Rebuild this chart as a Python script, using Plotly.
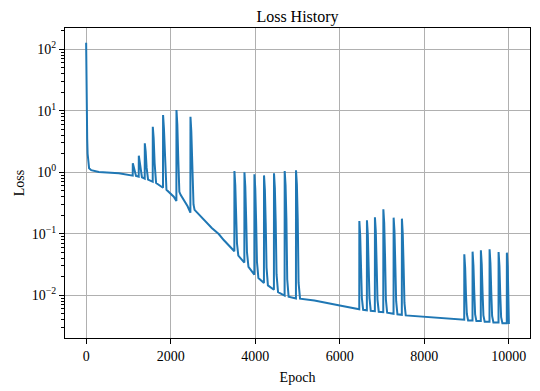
"""Loss history chart (log scale)."""

import plotly.graph_objects as go

# Epoch / loss pairs
epochs = [
    0, 4, 8, 12, 18, 25, 35, 50, 70, 120, 300, 773, 1080,
    # first group of spikes
    1102, 1104, 1125, 1150, 1180,
    1244, 1246, 1266, 1290, 1320,
    1386, 1388, 1408, 1430, 1465,
    1575, 1577, 1597, 1620, 1655,
    1818, 1820, 1840, 1862, 1900,
    2073, 2135, 2137, 2157, 2180, 2205, 2235,
    2400, 2466, 2468, 2488, 2510, 2540, 2565,
    2742, 2972, 3137, 3255,
    # second group
    3506, 3508, 3528, 3548, 3568, 3600,
    3743, 3745, 3765, 3785, 3805, 3840,
    3979, 3981, 4001, 4021, 4041, 4075,
    4206, 4208, 4228, 4248, 4268, 4300,
    4442, 4444, 4464, 4484, 4504, 4540,
    4695, 4697, 4717, 4737, 4757, 4790,
    4963, 4965, 4985, 5005, 5025, 5060,
    5400, 6000,
    # third group
    6461, 6463, 6483, 6503, 6523, 6553,
    6641, 6643, 6663, 6683, 6703, 6733,
    6830, 6832, 6852, 6872, 6892, 6922,
    7029, 7031, 7051, 7071, 7091, 7121,
    7272, 7274, 7294, 7314, 7334, 7364,
    7468, 7470, 7490, 7510, 7530, 7560,
    8500,
    # fourth group
    8944, 8946, 8966, 8986, 9006, 9036,
    9140, 9142, 9162, 9182, 9202, 9232,
    9336, 9338, 9358, 9378, 9398, 9428,
    9542, 9544, 9564, 9584, 9604, 9634,
    9755, 9757, 9777, 9797, 9817, 9847,
    9951, 9953, 9973, 9990, 10000,
]
loss = [
    128, 45, 20, 10, 6, 3.5, 2.0, 1.4, 1.16, 1.08, 1.01, 0.96, 0.88,
    0.88, 1.40, 1.20, 0.98, 0.87,
    0.845, 1.86, 1.5, 1.05, 0.83,
    0.79, 2.96, 2.2, 1.2, 0.76,
    0.70, 5.5, 3.6, 1.4, 0.67,
    0.56, 8.5, 5.2, 1.6, 0.52,
    0.40, 0.34, 10.3, 6.0, 1.6, 0.48, 0.43,
    0.28, 0.22, 8.0, 4.6, 1.2, 0.30, 0.245,
    0.179, 0.124, 0.099, 0.079,
    0.052, 1.05, 0.62, 0.20, 0.07, 0.044,
    0.034, 1.00, 0.58, 0.18, 0.05, 0.029,
    0.0216, 0.93, 0.54, 0.16, 0.035, 0.019,
    0.0158, 0.89, 0.52, 0.15, 0.028, 0.0145,
    0.0123, 0.96, 0.56, 0.16, 0.022, 0.0112,
    0.0099, 1.05, 0.62, 0.18, 0.018, 0.0095,
    0.0089, 1.08, 0.64, 0.18, 0.016, 0.0088,
    0.0082, 0.0068,
    0.0059, 0.161, 0.095, 0.028, 0.009, 0.0058,
    0.0057, 0.166, 0.098, 0.029, 0.009, 0.0056,
    0.0055, 0.185, 0.11, 0.032, 0.0085, 0.0054,
    0.0053, 0.25, 0.15, 0.042, 0.0085, 0.0052,
    0.0050, 0.183, 0.11, 0.031, 0.008, 0.0049,
    0.0048, 0.176, 0.10, 0.030, 0.0075, 0.0047,
    0.0042,
    0.0040, 0.0464, 0.028, 0.010, 0.0050, 0.0039,
    0.0039, 0.0512, 0.030, 0.011, 0.0049, 0.0038,
    0.0038, 0.054, 0.032, 0.011, 0.0047, 0.0037,
    0.0037, 0.056, 0.033, 0.011, 0.0046, 0.0036,
    0.0036, 0.0506, 0.030, 0.010, 0.0044, 0.0035,
    0.0035, 0.0493, 0.029, 0.008, 0.0034,
]

y_tick_values = [0.01, 0.1, 1, 10, 100]
y_tick_text = ["10<sup>−2</sup>", "10<sup>−1</sup>", "10<sup>0</sup>",
               "10<sup>1</sup>", "10<sup>2</sup>"]
x_tick_values = [0, 2000, 4000, 6000, 8000, 10000]

FONT = "Liberation Serif, Times New Roman, serif"

fig = go.Figure()
fig.add_trace(
    go.Scatter(
        x=epochs,
        y=loss,
        mode="lines",
        line=dict(color="#1f77b4", width=2),
        showlegend=False,
    )
)

axis_common = dict(
    showline=True,
    linecolor="black",
    linewidth=1,
    mirror=True,
    ticks="outside",
    ticklen=5,
    tickcolor="black",
    showgrid=True,
    gridcolor="#b0b0b0",
    gridwidth=1,
    zeroline=False,
    automargin=False,
    tickfont=dict(family=FONT, size=14, color="black"),
)

fig.update_xaxes(
    **axis_common,
    range=[-500, 10500],
    tickmode="array",
    tickvals=x_tick_values,
    ticktext=[str(v) for v in x_tick_values],
    title=dict(text="Epoch", font=dict(family=FONT, size=14, color="black"),
               standoff=9),
)
fig.update_yaxes(
    **axis_common,
    type="log",
    range=[-2.695, 2.346],
    tickmode="array",
    tickvals=y_tick_values,
    ticktext=y_tick_text,
    minor=dict(ticks="outside", ticklen=3, tickcolor="black", showgrid=False,
               dtick="D1"),
    title=dict(text="Loss", font=dict(family=FONT, size=14, color="black"),
               standoff=3),
)

# the page body adds an 8 px offset, so the figure is drawn 8 px smaller
fig.update_layout(
    width=532,
    height=383,
    template="plotly_white",
    plot_bgcolor="white",
    paper_bgcolor="white",
    margin=dict(l=57, r=10, t=20, b=53, autoexpand=False),
    title=dict(text="Loss History", x=0.5, xanchor="center", xref="paper",
               y=0.979, yanchor="middle",
               font=dict(family=FONT, size=16, color="black")),
    font=dict(family=FONT, color="black"),
)

fig.write_html("out.html")
